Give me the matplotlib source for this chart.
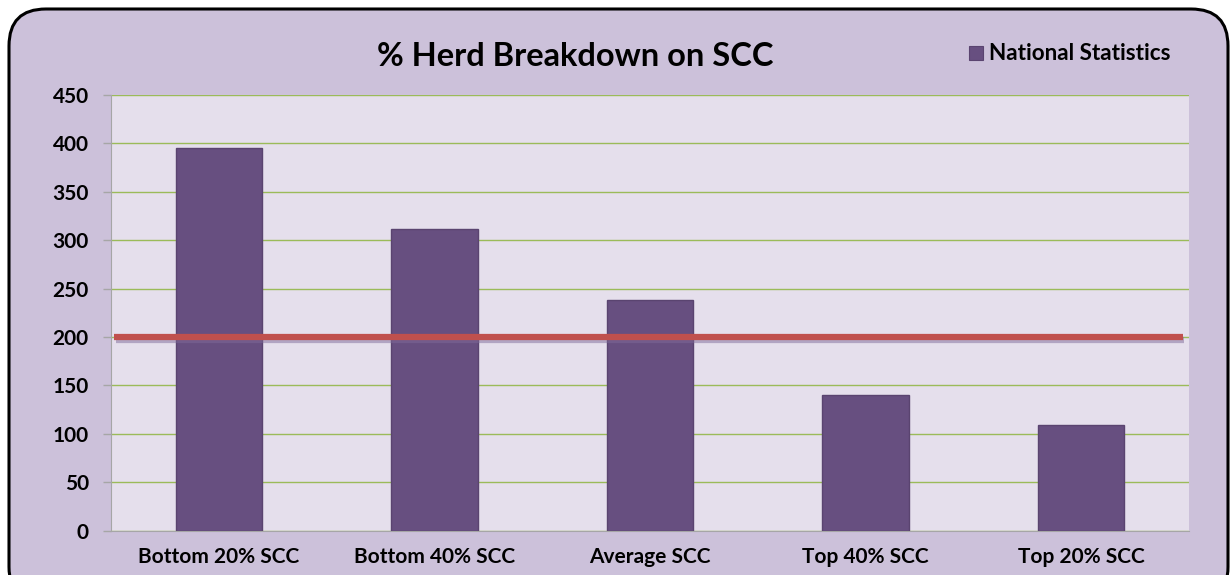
import matplotlib
matplotlib.use("Agg")
import matplotlib.pyplot as plt
from matplotlib.patches import FancyBboxPatch
import matplotlib.patheffects as pe

categories = ["Bottom 20% SCC", "Bottom 40% SCC", "Average SCC", "Top 40% SCC", "Top 20% SCC"]
values = [395, 312, 238, 140, 109]
threshold = 200
yticks = [0, 50, 100, 150, 200, 250, 300, 350, 400, 450]
series_name = "National Statistics"
title = "% Herd Breakdown on SCC"

plt.rcParams['font.family'] = ['Lato', 'DejaVu Sans']

fig = plt.figure(figsize=(12.3, 5.75), dpi=100)
fig.patch.set_facecolor("white")

# outer rounded chart frame
frame = FancyBboxPatch((9/1230, -0.05), (1219/1230), 1.05 - 9/575,
                       boxstyle="round,pad=0,rounding_size=0.03",
                       transform=fig.transFigure, facecolor="#CCC1DA",
                       edgecolor="black", linewidth=2.2, zorder=-10,
                       mutation_aspect=1230/575)
fig.patches.append(frame)

ax = fig.add_axes([111/1230, 44.3/575, 1078/1230, 435.7/575])
ax.set_zorder(1)
ax.set_facecolor("#E5DFEC")

x = list(range(len(categories)))
ax.bar(x, values, width=0.4, color="#674F80", edgecolor="#5A4470", linewidth=1.0, zorder=3)

ax.plot([-0.485, 4.47], [threshold, threshold], color="#C0504D", linewidth=4.5,
        solid_capstyle="butt", zorder=4,
        path_effects=[pe.SimpleLineShadow(offset=(1, -2), shadow_color="#7F6A99", alpha=0.5), pe.Normal()])

ax.set_xlim(-0.5, 4.5)
ax.set_ylim(0, 450)
ax.set_yticks(yticks)
ax.set_yticklabels([str(t) for t in yticks], fontsize=15, fontweight="bold")
ax.set_xticks(x)
ax.set_xticklabels(categories, fontsize=15, fontweight="bold")
ax.yaxis.grid(True, color="#9BBB59", linewidth=1.0, zorder=1)
ax.set_axisbelow(True)

for s in ["top", "right"]:
    ax.spines[s].set_visible(False)
ax.spines["left"].set_color("#A6A6A6")
ax.spines["bottom"].set_color("#A6A6A6")
ax.tick_params(axis="y", length=6, color="#A6A6A6", pad=10, width=1)
ax.tick_params(axis="x", length=0, pad=12)

fig.text(575/1230, 1 - 56/575, title, ha="center", va="center", fontsize=23.5, fontweight="bold")

# legend
fig.patches.append(plt.Rectangle((969/1230, 1 - 60/575), 14/1230, 14/575, transform=fig.transFigure,
                                 facecolor="#674F80", edgecolor="#5A4470", linewidth=0.8))
fig.text(989/1230, 1 - 54/575, series_name, ha="left", va="center", fontsize=16.2, fontweight="bold")

fig.savefig("out.png", dpi=100, facecolor=fig.get_facecolor())
